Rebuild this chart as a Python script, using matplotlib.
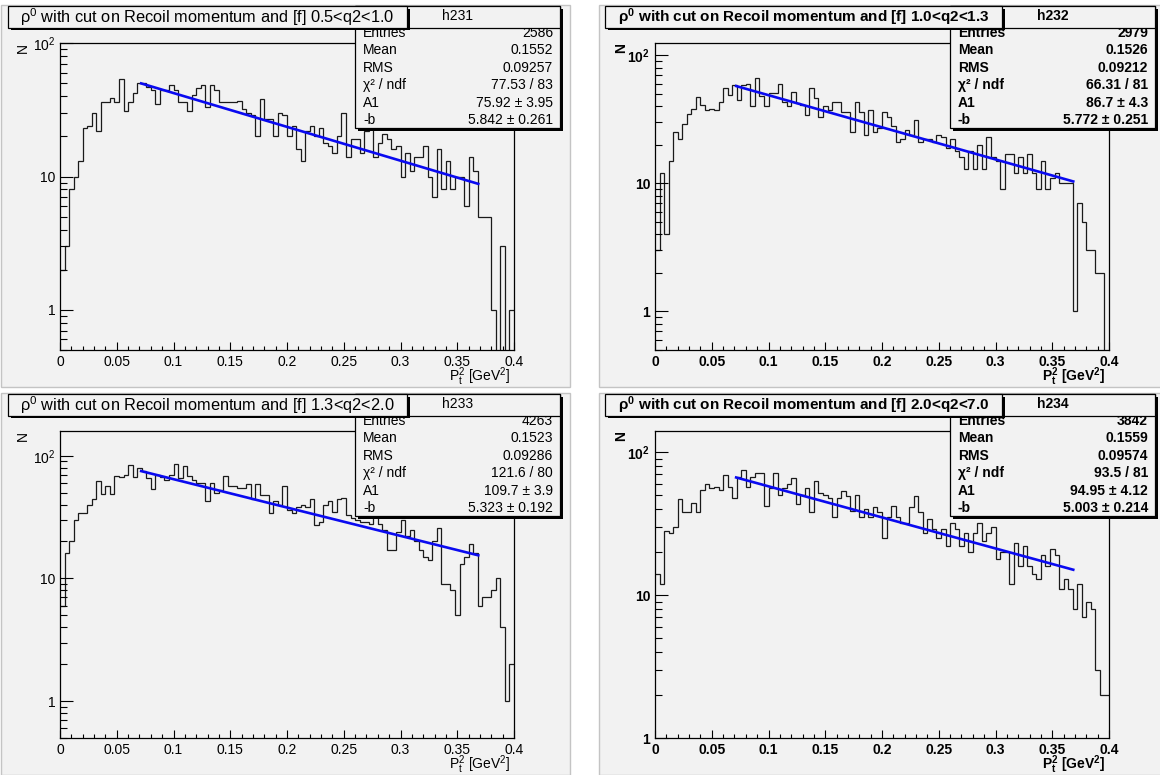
import numpy as np
import matplotlib
matplotlib.use("Agg")
import matplotlib.pyplot as plt
from matplotlib.patches import Rectangle
from matplotlib.ticker import LogLocator, NullFormatter

plt.rcParams['font.family'] = ['Liberation Sans', 'DejaVu Sans']
plt.rcParams['mathtext.fontset'] = 'custom'
plt.rcParams['mathtext.rm'] = 'Liberation Sans'
plt.rcParams['mathtext.it'] = 'Liberation Sans:italic'
plt.rcParams['mathtext.bf'] = 'Liberation Sans:bold'

# ---------------- data ----------------
n_bins = 100
x_lo, x_hi = 0.0, 0.4
hist_names = ['h231', 'h232', 'h233', 'h234']
q2_ranges = ['0.5<q2<1.0', '1.0<q2<1.3', '1.3<q2<2.0', '2.0<q2<7.0']

counts_h231 = [2, 3, 8, 10, 13, 23, 24, 30, 22, 36,
               36, 39, 36, 54, 31, 36, 42, 50, 50, 47,
               45, 35, 45, 45, 49, 45, 36, 36, 31, 41,
               46, 49, 33, 49, 45, 36, 36, 36, 36, 37,
               32, 30, 29, 20, 38, 27, 27, 20, 30, 29,
               20, 24, 16, 13, 22, 24, 20, 23, 18, 17,
               15, 20, 30, 14, 19, 19, 15, 22, 25, 14,
               18, 21, 19, 16, 17, 10, 15, 11, 14, 14,
               17, 10, 7, 16, 8, 13, 8, 10, 10, 6,
               14, 11, 5, 5, 5, 1, 0, 3, 0, 1]
counts_h232 = [3, 12, 4, 15, 25, 22, 29, 35, 38, 47,
               41, 37, 38, 37, 43, 55, 49, 58, 45, 58,
               60, 40, 66, 48, 40, 51, 51, 59, 43, 40,
               52, 42, 41, 34, 55, 46, 33, 40, 37, 43,
               43, 36, 36, 25, 43, 36, 24, 37, 25, 27,
               36, 33, 28, 21, 22, 26, 24, 31, 21, 22,
               22, 21, 24, 23, 19, 22, 18, 16, 13, 18,
               13, 20, 13, 23, 16, 15, 9, 17, 17, 12,
               16, 12, 17, 12, 9, 15, 9, 11, 12, 10,
               10, 10, 1, 7, 5, 3, 3, 2, 2, 0]
counts_h233 = [6, 16, 20, 30, 34, 34, 40, 44, 62, 49,
               57, 49, 68, 67, 70, 84, 67, 80, 75, 66,
               54, 70, 67, 64, 70, 85, 66, 82, 68, 64,
               60, 60, 43, 60, 50, 53, 68, 57, 57, 55,
               55, 59, 44, 59, 48, 48, 34, 43, 40, 57,
               36, 34, 38, 40, 38, 44, 27, 29, 40, 43,
               35, 44, 45, 33, 31, 30, 29, 29, 28, 33,
               28, 25, 17, 17, 24, 30, 22, 25, 20, 17,
               15, 14, 20, 26, 9, 9, 8, 5, 13, 15,
               19, 16, 6, 7, 7, 8, 10, 4, 1, 2]
counts_h234 = [14, 12, 28, 27, 30, 47, 38, 38, 44, 38,
               54, 60, 56, 57, 54, 69, 57, 48, 67, 75,
               57, 67, 71, 71, 42, 56, 71, 50, 56, 60,
               66, 43, 50, 56, 38, 63, 52, 50, 48, 35,
               48, 53, 49, 39, 50, 35, 40, 35, 41, 38,
               25, 35, 42, 35, 32, 32, 41, 49, 38, 27,
               34, 29, 25, 29, 22, 32, 29, 22, 27, 20,
               27, 32, 24, 27, 30, 18, 20, 20, 12, 23,
               16, 22, 16, 14, 13, 19, 16, 21, 19, 11,
               13, 11, 8, 12, 7, 9, 8, 3, 2, 2]
all_counts = [counts_h231, counts_h232, counts_h233, counts_h234]

entries = ['2586', '2979', '4263', '3842']
means = ['0.1552', '0.1526', '0.1523', '0.1559']
rms_vals = ['0.09257', '0.09212', '0.09286', '0.09574']
chi2_ndf = ['77.53 / 83', '66.31 / 81', '121.6 / 80', '93.5 / 81']
A1_vals = [75.92, 86.7, 109.7, 94.95]
A1_errs = ['3.95', '4.3', '3.9', '4.12']
b_vals = [5.842, 5.772, 5.323, 5.003]
b_errs = ['0.261', '0.251', '0.192', '0.214']
fit_lo, fit_hi = 0.0715, 0.3685
y_limits = [(0.5, 101), (0.5, 125), (0.5, 160), (1, 141)]

# ---------------- layout ----------------
W, H = 1160, 775
PAD = '#f2f2f2'
fig = plt.figure(figsize=(W / 100, H / 100), dpi=100)
fig.patch.set_facecolor('white')


def frac(x0, y0, x1, y1):
    return [x0 / W, 1 - y1 / H, (x1 - x0) / W, (y1 - y0) / H]


def pix_axes(z):
    a = fig.add_axes([0, 0, 1, 1], zorder=z)
    a.set_xlim(0, W)
    a.set_ylim(H, 0)
    a.axis('off')
    return a


bg = pix_axes(-10)
ov = pix_axes(10)

panels = [dict(dx=0, dy=0, bold=False, tbx=(8, 407), nx=23, tfs=11.8),
          dict(dx=595, dy=0, bold=True, tbx=(605, 1002), nx=621, tfs=11),
          dict(dx=0, dy=388, bold=False, tbx=(8, 407), nx=23, tfs=11.8),
          dict(dx=595, dy=388, bold=True, tbx=(605, 1002), nx=621, tfs=11)]
pad_boxes = [(1, 5, 570, 387), (599, 5, 1165, 387),
             (1, 393, 570, 775), (599, 393, 1165, 775)]

for (px0, py0, px1, py1) in pad_boxes:
    bg.add_patch(Rectangle((px0, py0), px1 - px0, py1 - py0,
                           facecolor=PAD, edgecolor='#c4c4c4', lw=1.0))

edges = np.linspace(x_lo, x_hi, n_bins + 1)


def shadow_box(a, x0, y0, x1, y1, z):
    a.add_patch(Rectangle((x0 + 2.5, y0 + 2.5), x1 - x0, y1 - y0,
                          facecolor='black', edgecolor='none', zorder=z))
    a.add_patch(Rectangle((x0, y0), x1 - x0, y1 - y0,
                          facecolor=PAD, edgecolor='black', lw=0.9, zorder=z + 0.1))


for i, p in enumerate(panels):
    dx, dy, bold = p['dx'], p['dy'], p['bold']
    fw = 'bold' if bold else 'normal'
    ax = fig.add_axes(frac(60 + dx, 42.7 + dy, 514 + dx, 350 + dy), zorder=0)
    ax.set_facecolor(PAD)
    ax.set_yscale('log', nonpositive='clip')
    ax.set_xlim(x_lo, x_hi)
    ax.set_ylim(*y_limits[i])

    ax.stairs(all_counts[i], edges, baseline=None, color='#1a1a1a', lw=0.9)
    xf = np.linspace(fit_lo, fit_hi, 200)
    ax.plot(xf, A1_vals[i] * np.exp(-b_vals[i] * xf), color='#0a0af0', lw=1.9)

    xt = np.round(np.arange(x_lo, x_hi + 1e-9, 0.05), 2)
    xl = [('%.2f' % v).rstrip('0').rstrip('.') for v in xt]
    ax.set_xticks(xt, labels=xl, fontsize=10, fontweight=fw)
    ax.set_xticks(np.arange(x_lo, x_hi + 1e-9, 0.01), minor=True)
    if bold:
        ylabs = ['1', '10', r'$\mathbf{10^{2}}$']
    else:
        ylabs = ['1', '10', r'$\mathrm{10^{2}}$']
    ax.set_yticks([1, 10, 100], labels=ylabs, fontsize=10, fontweight=fw)
    ax.yaxis.set_minor_locator(LogLocator(base=10, subs=np.arange(2, 10)))
    ax.yaxis.set_minor_formatter(NullFormatter())
    ax.set_ylim(*y_limits[i])
    ax.tick_params(axis='both', which='both', direction='in', top=False, right=False,
                   width=0.8, color='black')
    ax.tick_params(axis='x', which='major', length=5.8, pad=3.5)
    ax.tick_params(axis='x', which='minor', length=2.9)
    ax.tick_params(axis='y', which='major', length=9.4, pad=3.5)
    ax.tick_params(axis='y', which='minor', length=5.0)
    for s in ax.spines.values():
        s.set_linewidth(0.9)
        s.set_color('black')

    # axis titles
    ov.text(p['nx'], 43 + dy, 'N', rotation=90, ha='center', va='top',
            fontsize=10, fontweight=fw)
    if bold:
        xtitle = r'$\mathbf{P_{t}^{2}\ [GeV^{2}]}$'
    else:
        xtitle = r'$\mathrm{P_{t}^{2}\ [GeV^{2}]}$'
    ov.text(510 + dx, 376.5 + dy, xtitle, ha='right', va='center', fontsize=10)

    # stats box
    sx0, sx1, sy0, sy1 = 355 + dx, 560 + dx, 6 + dy, 128 + dy
    shadow_box(ov, sx0, sy0, sx1, sy1, 2)
    labels = ['Entries', 'Mean', 'RMS', 'χ² / ndf', 'A1', '-b']
    values = [entries[i], means[i], rms_vals[i], chi2_ndf[i],
              '%g ± %s' % (A1_vals[i], A1_errs[i]),
              '%g ± %s' % (b_vals[i], b_errs[i])]
    for r, (lab, val) in enumerate(zip(labels, values)):
        yy = sy0 + 27 + r * 17.4
        ov.text(sx0 + 8, yy, lab, ha='left', va='center', fontsize=10,
                fontweight=fw, zorder=3)
        ov.text(sx1 - 7, yy, val, ha='right', va='center', fontsize=10,
                fontweight=fw, zorder=3)
    ov.add_patch(Rectangle((sx0, sy0), sx1 - sx0, 21.5, facecolor=PAD,
                           edgecolor='black', lw=0.9, zorder=4))
    ov.text((sx0 + sx1) / 2, sy0 + 10.5, hist_names[i], ha='center', va='center',
            fontsize=10, fontweight=fw, zorder=5)

    # title box
    tx0, tx1 = p['tbx']
    ty0, ty1 = 6 + dy, 27.5 + dy
    shadow_box(ov, tx0, ty0, tx1, ty1, 6)
    if bold:
        ttl = 'ρ$^{\\mathbf{0}}$ with cut on Recoil momentum and [f] ' + q2_ranges[i]
    else:
        ttl = 'ρ$^{0}$ with cut on Recoil momentum and [f] ' + q2_ranges[i]
    ov.text((tx0 + tx1) / 2, (ty0 + ty1) / 2, ttl, ha='center', va='center',
            fontsize=p['tfs'], fontweight=fw, zorder=7)

fig.savefig('out.png', dpi=100, facecolor='white')
